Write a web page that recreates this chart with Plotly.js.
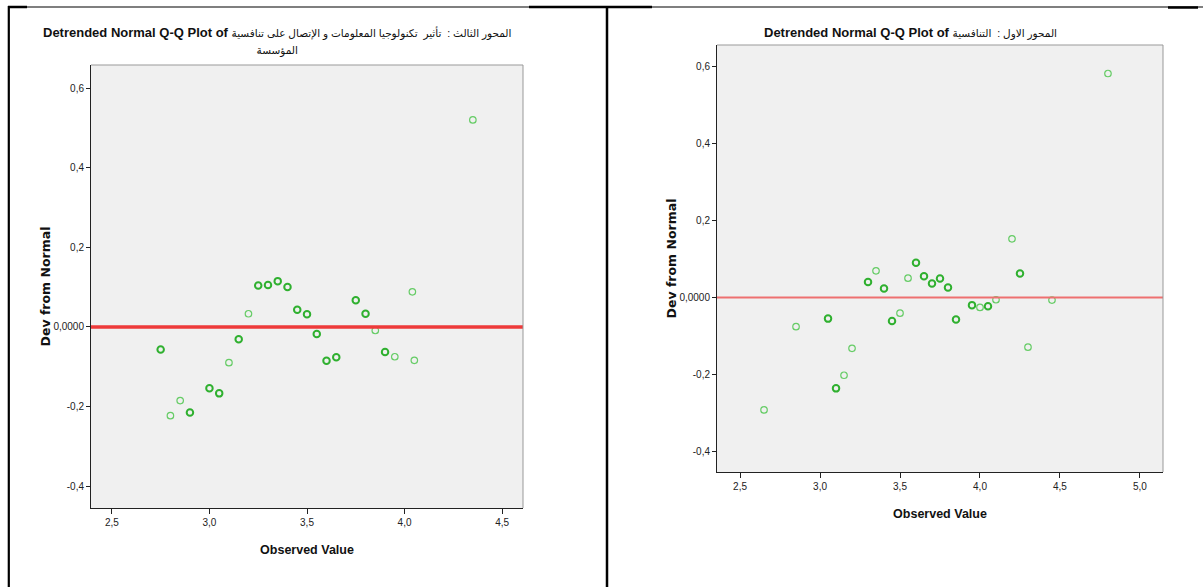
<!DOCTYPE html>
<html>
<head>
<meta charset="utf-8">
<script src="https://cdn.plot.ly/plotly-3.0.1.min.js"></script>
<style>html,body{margin:0;padding:0;background:#fff;}#chart{width:1203px;height:587px;}</style>
</head>
<body>
<div id="chart"></div>
<script>
// ---- Data ----
const titlePrefix = "Detrended Normal Q-Q Plot of";
const leftTitleArabic = ["المحور الثالث :  تأثير  تكنولوجيا المعلومات و الإتصال على تنافسية", "المؤسسة"];
const rightTitleArabic = ["المحور الاول :  التنافسية"];
const xAxisTitle = "Observed Value";
const yAxisTitle = "Dev from Normal";

// Left panel: observed value, deviation from normal, number of overlapping cases
const leftObserved = [2.75, 2.80, 2.85, 2.90, 3.00, 3.05, 3.10, 3.15, 3.20, 3.25, 3.30, 3.35, 3.40, 3.45, 3.50, 3.55, 3.60, 3.65, 3.75, 3.80, 3.85, 3.90, 3.95, 4.04, 4.05, 4.35];
const leftDev      = [-0.057, -0.223, -0.185, -0.215, -0.154, -0.167, -0.090, -0.031, 0.033, 0.104, 0.105, 0.115, 0.100, 0.043, 0.032, -0.018, -0.085, -0.076, 0.067, 0.033, -0.009, -0.063, -0.075, 0.088, -0.084, 0.520];
const leftCount    = [2, 1, 1, 2, 2, 2, 1, 2, 1, 2, 2, 2, 2, 2, 2, 2, 2, 2, 2, 2, 1, 2, 1, 1, 1, 1];

// Right panel
const rightObserved = [2.65, 2.85, 3.05, 3.10, 3.15, 3.20, 3.30, 3.35, 3.40, 3.45, 3.50, 3.55, 3.60, 3.65, 3.70, 3.75, 3.80, 3.85, 3.95, 4.00, 4.05, 4.10, 4.20, 4.25, 4.30, 4.45, 4.80];
const rightDev      = [-0.292, -0.076, -0.055, -0.236, -0.202, -0.132, 0.040, 0.069, 0.023, -0.061, -0.041, 0.050, 0.090, 0.055, 0.036, 0.049, 0.026, -0.057, -0.020, -0.026, -0.023, -0.006, 0.152, 0.062, -0.129, -0.007, 0.581];
const rightCount    = [1, 1, 2, 2, 1, 1, 2, 1, 2, 2, 1, 1, 2, 2, 2, 2, 2, 2, 2, 1, 2, 1, 1, 2, 1, 1, 1];

// Tick labels
const leftXTickVals = [2.5, 3.0, 3.5, 4.0, 4.5];
const leftXTickText = ["2,5", "3,0", "3,5", "4,0", "4,5"];
const rightXTickVals = [2.5, 3.0, 3.5, 4.0, 4.5, 5.0];
const rightXTickText = ["2,5", "3,0", "3,5", "4,0", "4,5", "5,0"];
const yTickVals = [-0.4, -0.2, 0.0, 0.2, 0.4, 0.6];
const yTickText = ["-0,4", "-0,2", "0,0000", "0,2", "0,4", "0,6"];

// ---- Build ----
const W = 1203, H = 587;
const px = v => v / W;
const py = v => 1 - v / H;

const lightGreen = '#66cc66';
const darkGreen = '#2fb02f';

function split(xs, ys, cs, single) {
  const x = [], y = [];
  xs.forEach((v, i) => { if ((cs[i] > 1) !== single) { x.push(v); y.push(ys[i]); } });
  return {x, y};
}

function pointTraces(xs, ys, cs, xa, ya) {
  const s = split(xs, ys, cs, true);
  const m = split(xs, ys, cs, false);
  return [
    {x: s.x, y: s.y, xaxis: xa, yaxis: ya, type: 'scatter', mode: 'markers', hoverinfo: 'x+y',
     marker: {symbol: 'circle-open', size: 6.5, color: lightGreen, line: {width: 1.2, color: lightGreen}}},
    {x: m.x, y: m.y, xaxis: xa, yaxis: ya, type: 'scatter', mode: 'markers', hoverinfo: 'x+y',
     marker: {symbol: 'circle-open', size: 6.5, color: darkGreen, line: {width: 2, color: darkGreen}}}
  ];
}

const traces = [
  ...pointTraces(leftObserved, leftDev, leftCount, 'x', 'y'),
  ...pointTraces(rightObserved, rightDev, rightCount, 'x2', 'y2')
];

const tickFont = {family: 'Liberation Sans, Arial, sans-serif', size: 10, color: '#222'};
const axTitleFont = {family: 'Liberation Sans, Arial, sans-serif', size: 12.5, color: '#111', weight: 'bold'};
const yTitleFont = {family: 'DejaVu Sans, Verdana, sans-serif', size: 12.5, color: '#111', weight: 'bold'};
const titleFont = {family: 'Liberation Sans, Arial, DejaVu Sans, sans-serif', size: 13, color: '#111', weight: 'bold'};

const ar = s => '<span style="font-size:10.5px;font-weight:normal">' + s + '</span>';
const leftTitle = titlePrefix + ' ' + ar(leftTitleArabic[0]) + '<br>' + ar(leftTitleArabic[1]);
const rightTitle = titlePrefix + ' ' + ar(rightTitleArabic[0]);

function xAxis(domain, range, vals, text, anchor) {
  return {domain, range, anchor, tickmode: 'array', tickvals: vals, ticktext: text,
    ticks: 'outside', ticklen: 5, tickwidth: 1, tickcolor: '#222',
    showline: true, linecolor: '#222', linewidth: 1, showgrid: false, zeroline: false,
    tickfont: tickFont, fixedrange: true,
    title: {text: xAxisTitle, font: axTitleFont, standoff: 18}};
}
function yAxis(domain, range, anchor) {
  return {domain, range, anchor, tickmode: 'array', tickvals: yTickVals, ticktext: yTickText,
    ticks: 'outside', ticklen: 4, tickwidth: 1, tickcolor: '#222',
    showline: true, linecolor: '#222', linewidth: 1, showgrid: false, zeroline: false,
    tickfont: tickFont, fixedrange: true,
    title: {text: yAxisTitle, font: yTitleFont, standoff: 0}};
}

const lx = [px(91), px(523)], ly = [py(508), py(65)];
const rx = [px(717), px(1163)], ry = [py(472), py(45)];

const layout = {
  width: W, height: H,
  margin: {l: 0, r: 0, t: 0, b: 0, pad: 0},
  paper_bgcolor: '#ffffff',
  plot_bgcolor: '#f0f0f0',
  showlegend: false,
  xaxis: xAxis(lx, [2.393, 4.607], leftXTickVals, leftXTickText, 'y'),
  yaxis: yAxis(ly, [-0.455, 0.658], 'x'),
  xaxis2: xAxis(rx, [2.356, 5.144], rightXTickVals, rightXTickText, 'y2'),
  yaxis2: yAxis(ry, [-0.453, 0.655], 'x2'),
  annotations: [
    {text: leftTitle, xref: 'paper', yref: 'paper', x: px(277), y: py(23), xanchor: 'center', yanchor: 'top',
     showarrow: false, font: titleFont, align: 'center'},
    {text: rightTitle, xref: 'paper', yref: 'paper', x: px(910), y: py(23), xanchor: 'center', yanchor: 'top',
     showarrow: false, font: titleFont, align: 'center'}
  ],
  shapes: [
    // reference lines at zero deviation
    {type: 'line', xref: 'x domain', yref: 'y', x0: 0, x1: 1, y0: 0, y1: 0, line: {color: '#ee3a3a', width: 3.5}},
    {type: 'line', xref: 'x2 domain', yref: 'y2', x0: 0, x1: 1, y0: 0, y1: 0, line: {color: '#ee7070', width: 2}},
    // plot frames (top and right sides)
    {type: 'line', xref: 'x domain', yref: 'y domain', x0: 0, x1: 1, y0: 1, y1: 1, line: {color: '#999', width: 1}},
    {type: 'line', xref: 'x domain', yref: 'y domain', x0: 1, x1: 1, y0: 0, y1: 1, line: {color: '#999', width: 1}},
    {type: 'line', xref: 'x2 domain', yref: 'y2 domain', x0: 0, x1: 1, y0: 1, y1: 1, line: {color: '#999', width: 1}},
    {type: 'line', xref: 'x2 domain', yref: 'y2 domain', x0: 1, x1: 1, y0: 0, y1: 1, line: {color: '#999', width: 1}},
    // page/table borders
    {type: 'line', xref: 'paper', yref: 'paper', x0: px(8), x1: px(1203), y0: py(7), y1: py(7), line: {color: '#000', width: 1.2}},
    {type: 'line', xref: 'paper', yref: 'paper', x0: px(8), x1: px(27), y0: py(7), y1: py(7), line: {color: '#000', width: 2.5}},
    {type: 'line', xref: 'paper', yref: 'paper', x0: px(529), x1: px(652), y0: py(7), y1: py(7), line: {color: '#000', width: 2.5}},
    {type: 'line', xref: 'paper', yref: 'paper', x0: px(1168), x1: px(1198), y0: py(7.5), y1: py(7.5), line: {color: '#000', width: 2.5}},
    {type: 'line', xref: 'paper', yref: 'paper', x0: px(8.8), x1: px(8.8), y0: py(6), y1: 0, line: {color: '#000', width: 2.2}},
    {type: 'line', xref: 'paper', yref: 'paper', x0: px(607), x1: px(607), y0: py(6), y1: 0, line: {color: '#000', width: 2.5}}
  ]
};

Plotly.newPlot('chart', traces, layout, {displayModeBar: false, staticPlot: true});
</script>
</body>
</html>
